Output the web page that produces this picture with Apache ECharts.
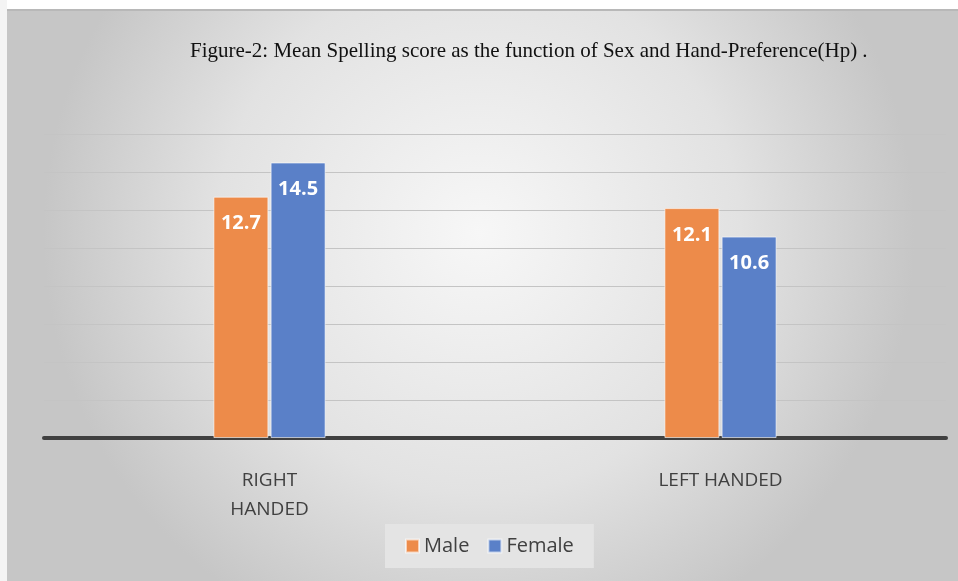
<!DOCTYPE html>
<html>
<head>
<meta charset="utf-8">
<script src="https://cdn.jsdelivr.net/npm/echarts@6/dist/echarts.min.js"></script>
<style>
  html, body { margin: 0; padding: 0; background: #fff; }
  #chart { width: 958px; height: 581px; }
</style>
</head>
<body>
<div id="chart"></div>
<script>
// categories and values
var categories = ['RIGHT\nHANDED', 'LEFT HANDED'];
var maleScores = [12.7, 12.1];
var femaleScores = [14.5, 10.6];
var seriesNames = ['Male', 'Female'];

var myChart = echarts.init(document.getElementById('chart'));

var barLabel = {
  show: true,
  position: 'insideTop',
  distance: 17,
  color: '#fff',
  fontSize: 20,
  fontWeight: 'bold',
  fontFamily: 'Open Sans'
};

myChart.setOption({
  backgroundColor: {
    type: 'radial', x: 0.5, y: 0.4, r: 0.75,
    colorStops: [
      { offset: 0, color: '#f7f7f7' },
      { offset: 0.6, color: '#e2e2e2' },
      { offset: 1, color: '#c6c6c6' }
    ]
  },
  graphic: [
    // white strips at the top and left edge of the scan
    { type: 'rect', left: 0, top: 0, shape: { width: 958, height: 9 }, style: { fill: '#ffffff' } },
    { type: 'rect', left: 0, top: 9, shape: { width: 958, height: 2 }, style: { fill: '#b8b8b8' } },
    { type: 'rect', left: 0, top: 0, shape: { width: 7, height: 581 }, style: { fill: '#f4f4f4' } }
  ],
  title: {
    text: 'Figure-2: Mean Spelling score as the function of Sex and Hand-Preference(Hp) .',
    left: 185,
    top: 36,
    textStyle: {
      fontFamily: 'Liberation Serif',
      fontWeight: 'normal',
      fontSize: 21,
      color: '#111'
    }
  },
  legend: {
    data: seriesNames,
    left: 385,
    top: 524,
    padding: [12, 20],
    itemWidth: 13,
    itemHeight: 13,
    itemGap: 18,
    icon: 'rect',
    backgroundColor: '#e4e4e4',
    textStyle: { fontFamily: 'Open Sans', fontSize: 20, color: '#404040' }
  },
  grid: { left: 44, right: 12, top: 134, bottom: 143 },
  xAxis: {
    type: 'category',
    data: categories,
    axisTick: { show: false },
    axisLine: { lineStyle: { color: '#404040', width: 4 } },
    axisLabel: {
      margin: 28,
      fontFamily: 'Open Sans',
      fontSize: 19,
      lineHeight: 29,
      color: '#404040'
    }
  },
  yAxis: {
    type: 'value',
    min: 0,
    max: 16,
    interval: 2,
    axisLabel: { show: false },
    axisLine: { show: false },
    axisTick: { show: false },
    splitLine: { lineStyle: { color: '#c4c4c4', width: 1 } }
  },
  series: [
    {
      name: 'Male',
      type: 'bar',
      barWidth: 55,
      barGap: '4%',
      itemStyle: { color: '#ED8B4A', borderColor: 'rgba(255,255,255,0.6)', borderWidth: 1 },
      label: barLabel,
      data: maleScores
    },
    {
      name: 'Female',
      type: 'bar',
      barWidth: 55,
      barGap: '4%',
      itemStyle: { color: '#5A80C8', borderColor: 'rgba(255,255,255,0.6)', borderWidth: 1 },
      label: barLabel,
      data: femaleScores
    }
  ]
});
</script>
</body>
</html>
